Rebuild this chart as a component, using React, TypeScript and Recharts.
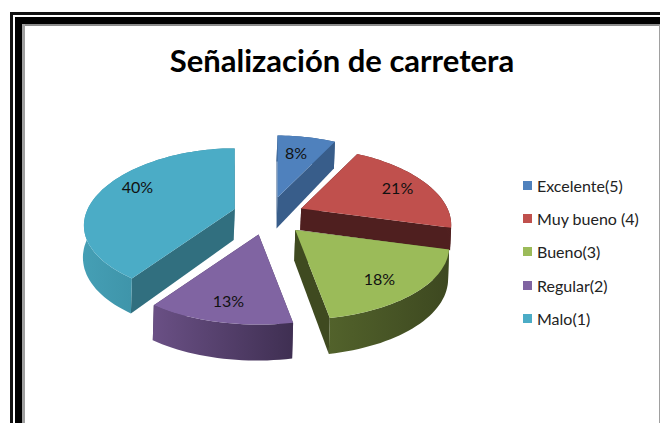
import { PieChart, Pie, Legend } from "recharts";

const categories = ["Excelente(5)", "Muy bueno (4)", "Bueno(3)", "Regular(2)", "Malo(1)"];
const percents = [8, 21, 18, 13, 40];

const topColors = ["#4f81bd", "#c0504d", "#9bbb59", "#8064a2", "#4bacc6"];
const cutColors = ["#385d8a", "#4f1f1f", "#3f4a20", "#4a3a5e", "#316f7f"];
const wallFrom = ["#385d8a", "#6e2e2c", "#52622b", "#6a5085", "#459fb5"];
const wallTo = ["#385d8a", "#4f1f1f", "#3d4820", "#3f2f52", "#327f92"];

// small per-slice corrections, the original's perspective is not quite regular
const sliceShift = [[-1, 0], [0, 0], [2, 0], [-4, 0], [-3, -1]];
const sliceDepth = [1, 0.7, 1, 1, 1];
const sliceScale = [1, 0.975, 1, 1, 0.98];
const labelShift = [[-3, 0], [5, 0], [-6, 2], [0, 0], [0, -6]];

const pieData = categories.map((name, i) => ({ name, value: percents[i], fill: topColors[i] }));

const rad = (deg: number) => (deg * Math.PI) / 180;

// squashed disc with a little perspective: the front is larger than the back
function project(ox: number, oy: number, R: number, theta: number, f = 1) {
  const s = Math.sin(rad(theta));
  const c = Math.cos(rad(theta));
  const k = R / 150;
  return [ox + f * s * (R - 35 * k * c), oy - f * c * (76 * k - 14 * k * c)];
}

function explodedCenter(cx: number, cy: number, midAngle: number, i: number) {
  const theta = 90 - midAngle;
  return [
    cx + 34 * Math.sin(rad(theta)) + sliceShift[i][0],
    cy - 19 * Math.cos(rad(theta)) + sliceShift[i][1],
  ];
}

const pts = (list: number[][]) => list.map((p) => `${p[0].toFixed(1)},${p[1].toFixed(1)}`).join(" ");

function Slice3D(props: any) {
  const { cx, cy, outerRadius, startAngle, endAngle, midAngle, name } = props;
  const i = categories.indexOf(name);
  const [ox, oy] = explodedCenter(cx, cy, midAngle, i);
  const t0 = 90 - startAngle;
  const t1 = 90 - endAngle;
  const depth = (theta: number) => (31 - 5 * Math.cos(rad(theta))) * sliceDepth[i];
  const down = (p: number[], theta: number) => [p[0] - 1, p[1] + depth(theta)];

  const arc: number[][] = [];
  const wallBottom: number[][] = [];
  const steps = Math.ceil((t1 - t0) / 2);
  for (let n = 0; n <= steps; n++) {
    const theta = t0 + ((t1 - t0) * n) / steps;
    const p = project(ox, oy, outerRadius * sliceScale[i], theta);
    arc.push(p);
    wallBottom.push(down(p, theta));
  }
  const apex = [ox, oy];
  const apexDown = down(apex, 90);
  const gradId = `wall-${i}`;

  return (
    <g>
      <defs>
        <linearGradient id={gradId} x1="0" y1="0" x2="1" y2="0">
          <stop offset="0%" stopColor={wallFrom[i]} />
          <stop offset="100%" stopColor={wallTo[i]} />
        </linearGradient>
      </defs>
      <polygon points={pts([apex, arc[0], wallBottom[0], apexDown])} fill={cutColors[i]} />
      <polygon
        points={pts([apex, arc[arc.length - 1], wallBottom[wallBottom.length - 1], apexDown])}
        fill={cutColors[i]}
      />
      <polygon points={pts([...arc, ...[...wallBottom].reverse()])} fill={`url(#${gradId})`} />
      <polygon points={pts([apex, ...arc])} fill={topColors[i]} />
    </g>
  );
}

function PercentLabel(props: any) {
  const { cx, cy, midAngle, outerRadius, value, name } = props;
  const i = categories.indexOf(name);
  const [ox, oy] = explodedCenter(cx, cy, midAngle, i);
  const [x, y] = project(ox, oy, outerRadius * sliceScale[i], 90 - midAngle, 0.75);
  return (
    <text
      x={x + labelShift[i][0]}
      y={y + labelShift[i][1]}
      textAnchor="middle"
      dominantBaseline="central"
      fontFamily="Lato"
      fontSize={16}
      fill="#111"
    >
      {value}%
    </text>
  );
}

function LegendList() {
  return (
    <div style={{ fontFamily: "Lato", fontSize: 16, color: "#222" }}>
      {categories.map((name, i) => (
        <div key={name} style={{ display: "flex", alignItems: "center", height: 33.2, whiteSpace: "nowrap" }}>
          <span style={{ width: 9, height: 9, background: topColors[i], marginRight: 5 }} />
          {name}
        </div>
      ))}
    </div>
  );
}

const bar = (left: number, top: number, width: number | string, height: number | string, background: string) => (
  <div style={{ position: "absolute", left, top, width, height, background }} />
);

export default function App() {
  return (
    <div style={{ position: "fixed", left: 0, top: 0, width: 660, height: 423, background: "#fff", overflow: "hidden" }}>
      {bar(10, 12, 650, 3, "#111")}
      {bar(10, 12, 3, 411, "#111")}
      {bar(15, 17, 645, 7, "#000")}
      {bar(15, 17, 7, 406, "#000")}
      {bar(22, 24, 638, 2, "#8c8c8c")}
      {bar(22, 24, 3, 399, "#a0a0a0")}
      {bar(659, 25, 1, 398, "#a0a0a0")}
      <div
        style={{
          position: "absolute",
          left: 25,
          width: 634,
          top: 40,
          textAlign: "center",
          fontFamily: "Lato",
          fontWeight: 700,
          fontSize: 31,
          lineHeight: "40px",
          color: "#000",
        }}
      >
        Señalización de carretera
      </div>
      <div style={{ position: "absolute", left: 0, top: 0 }}>
        <PieChart width={660} height={423} margin={{ top: 0, right: 0, bottom: 0, left: 0 }}>
          <Pie
            data={pieData}
            dataKey="value"
            nameKey="name"
            cx={270}
            cy={216}
            outerRadius={150}
            startAngle={90}
            endAngle={-270}
            stroke="none"
            isAnimationActive={false}
            shape={Slice3D}
            label={PercentLabel}
            labelLine={false}
          />
          <Legend
            content={LegendList}
            layout="vertical"
            wrapperStyle={{ position: "absolute", left: 523, top: 169, width: 137 }}
          />
        </PieChart>
      </div>
    </div>
  );
}
